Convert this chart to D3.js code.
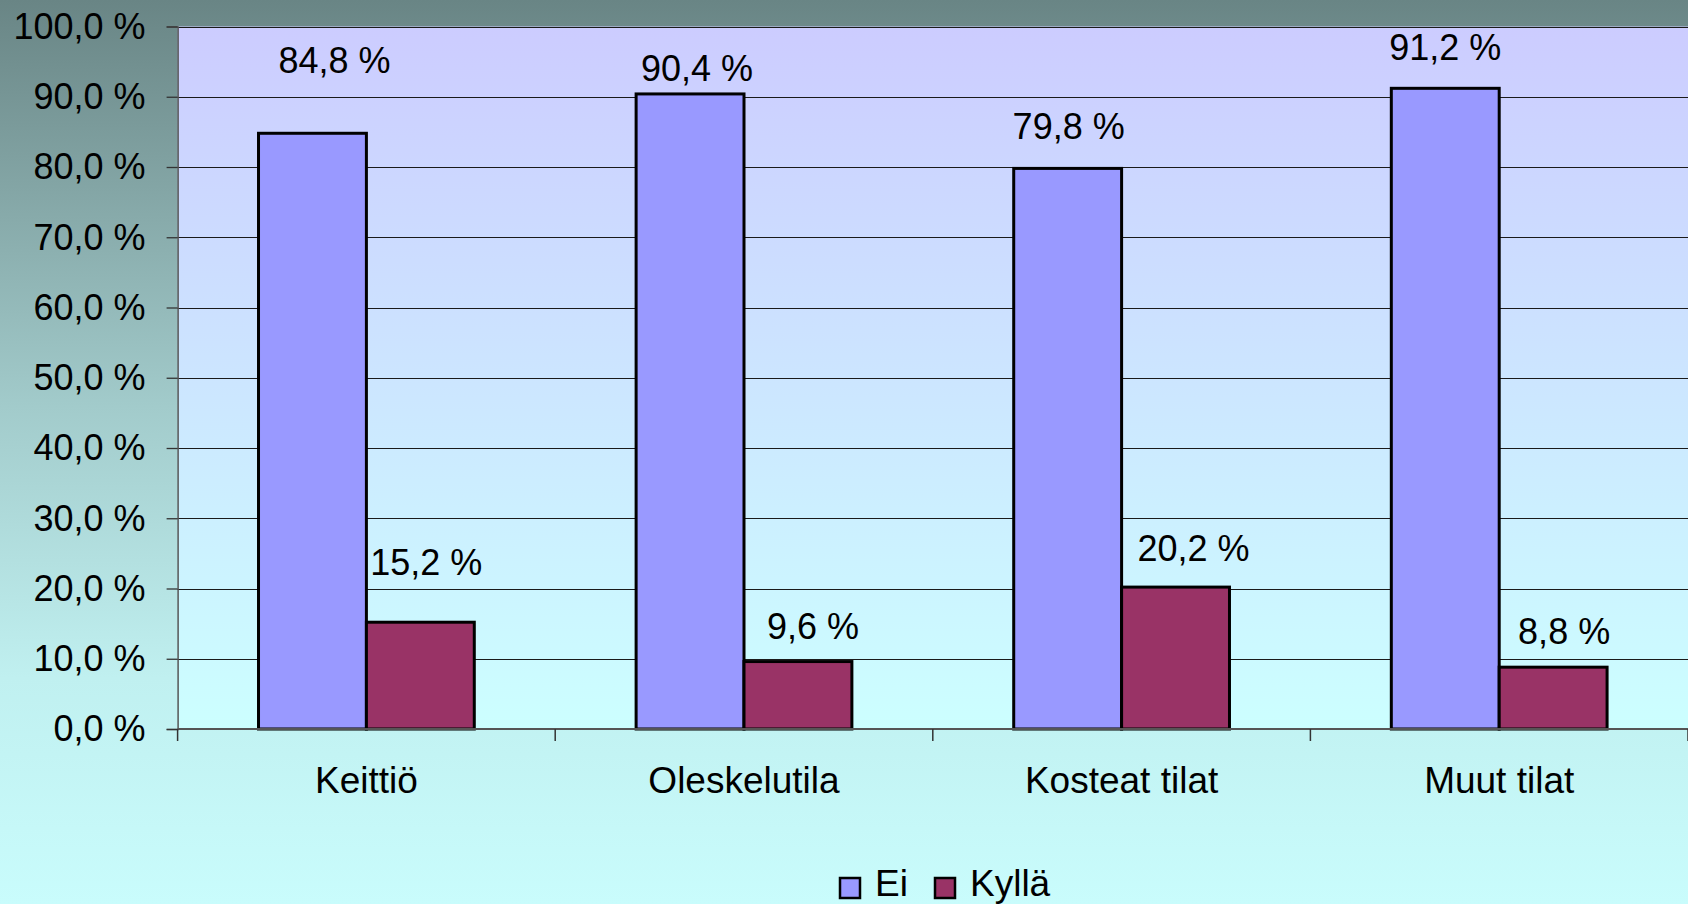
<!DOCTYPE html>
<html>
<head>
<meta charset="utf-8">
<script src="https://cdn.jsdelivr.net/npm/d3@7"></script>
<style>
  html, body { margin: 0; padding: 0; overflow: hidden; }
  svg { display: block; }
  text { font-family: "Liberation Sans", Arial, sans-serif; fill: #000; }
</style>
</head>
<body>
<svg id="chart" width="1688" height="904"></svg>
<script>
// ---- data ----
const categories = ["Keittiö", "Oleskelutila", "Kosteat tilat", "Muut tilat"];
const seriesNames = ["Ei", "Kyllä"];
const valuesEi = [84.8, 90.4, 79.8, 91.2];
const valuesKylla = [15.2, 9.6, 20.2, 8.8];
const yTicks = [0, 10, 20, 30, 40, 50, 60, 70, 80, 90, 100];

// ---- layout (label nudges relative to default placement, px) ----
const labelNudgeEi = [[22, -36], [7, 11], [1, -5], [0, -4]];
const labelNudgeKylla = [[6, -23], [15, 1], [18, -2], [11, 1]];

const colors = { "Ei": "#9999ff", "Kyllä": "#993366" };
const W = 1688, H = 904;
const plot = { left: 177.6, right: 1688, top: 26.5, bottom: 729 };

const svg = d3.select("#chart");
const defs = svg.append("defs");

const bgGrad = defs.append("linearGradient").attr("id", "bgGrad")
  .attr("x1", 0).attr("y1", 0).attr("x2", 0).attr("y2", 1);
bgGrad.append("stop").attr("offset", "0").attr("stop-color", "#698585");
bgGrad.append("stop").attr("offset", "0.45").attr("stop-color", "#a2cbcb");
bgGrad.append("stop").attr("offset", "0.75").attr("stop-color", "#c0f0f0");
bgGrad.append("stop").attr("offset", "1").attr("stop-color", "#c9fcfc");

const plotGrad = defs.append("linearGradient").attr("id", "plotGrad")
  .attr("x1", 0).attr("y1", 0).attr("x2", 0).attr("y2", 1);
plotGrad.append("stop").attr("offset", "0").attr("stop-color", "#ccccff");
plotGrad.append("stop").attr("offset", "1").attr("stop-color", "#ccffff");

svg.append("rect").attr("width", W).attr("height", H).attr("fill", "url(#bgGrad)");
svg.append("rect")
  .attr("x", plot.left).attr("y", plot.top)
  .attr("width", plot.right - plot.left).attr("height", plot.bottom - plot.top)
  .attr("fill", "url(#plotGrad)");

const x0 = d3.scaleBand().domain(categories).range([plot.left, plot.right]).paddingInner(0).paddingOuter(0);
const bw = x0.bandwidth();
const barW = bw / 3.5; // gap width 150%
const x1 = d3.scaleBand().domain(seriesNames).range([bw / 2 - barW, bw / 2 + barW]).padding(0);
const y = d3.scaleLinear().domain([0, 100]).range([plot.bottom, plot.top]);

const fmt = v => d3.format(".1f")(v).replace(".", ",") + " %";

// gridlines
svg.append("g").selectAll("line").data(yTicks.filter(t => t > 0)).join("line")
  .attr("x1", plot.left).attr("x2", plot.right)
  .attr("y1", d => Math.round(y(d)) + 0.5).attr("y2", d => Math.round(y(d)) + 0.5)
  .attr("stroke", "#1a1a1a").attr("stroke-width", 1.2);

// y axis
const yAxis = d3.axisLeft(y).tickValues(yTicks).tickSize(11).tickPadding(21).tickFormat(fmt);
const gy = svg.append("g").attr("transform", `translate(${plot.left},0)`).call(yAxis);
gy.select(".domain").attr("stroke", "#555").attr("stroke-width", 1.5);
gy.selectAll(".tick line").attr("stroke", "#333").attr("stroke-width", 1.3);
gy.selectAll(".tick text").attr("font-size", "36px").attr("fill", "#000")
  .attr("font-family", "Liberation Sans, Arial, sans-serif").attr("dy", "0.33em");

// bars
const rows = categories.map((c, i) => ({ cat: c, i, vals: [
  { s: "Ei", v: valuesEi[i], nudge: labelNudgeEi[i] },
  { s: "Kyllä", v: valuesKylla[i], nudge: labelNudgeKylla[i] }
]}));

const groups = svg.append("g").selectAll("g").data(rows).join("g")
  .attr("transform", d => `translate(${x0(d.cat)},0)`);

groups.selectAll("rect").data(d => d.vals).join("rect")
  .attr("x", d => x1(d.s)).attr("width", x1.bandwidth())
  .attr("y", d => y(d.v)).attr("height", d => y(0) - y(d.v))
  .attr("fill", d => colors[d.s]).attr("stroke", "#000").attr("stroke-width", 3);

groups.selectAll("text.lbl").data(d => d.vals).join("text").attr("class", "lbl")
  .attr("x", d => x1(d.s) + x1.bandwidth() / 2 + d.nudge[0])
  .attr("y", d => y(d.v) - 24 + d.nudge[1])
  .attr("text-anchor", "middle").attr("font-size", "36px")
  .text(d => fmt(d.v));

// x axis
const xAxis = d3.axisBottom(x0).tickSize(0).tickPadding(0);
const gx = svg.append("g").attr("transform", `translate(0,${plot.bottom})`);
gx.append("line").attr("x1", plot.left).attr("x2", plot.right).attr("y1", 0).attr("y2", 0)
  .attr("stroke", "#555").attr("stroke-width", 2);
const boundaries = categories.map(c => x0(c)).concat([plot.right]);
gx.selectAll("line.tk").data(boundaries).join("line").attr("class", "tk")
  .attr("x1", d => d).attr("x2", d => d).attr("y1", 0).attr("y2", 12)
  .attr("stroke", "#333").attr("stroke-width", 1.5);
gx.selectAll("text.cat").data(categories).join("text").attr("class", "cat")
  .attr("x", d => x0(d) + bw / 2).attr("y", 64)
  .attr("text-anchor", "middle").attr("font-size", "37px")
  .text(d => d);

// legend
const legend = svg.append("g").attr("transform", "translate(839,877)");
const legItems = [{ s: "Ei", x: 0 }, { s: "Kyllä", x: 95 }];
const li = legend.selectAll("g").data(seriesNames).join("g")
  .attr("transform", (d, i) => `translate(${i === 0 ? 0 : 95},0)`);
li.append("rect").attr("x", 1).attr("y", 1).attr("width", 20).attr("height", 20)
  .attr("fill", d => colors[d]).attr("stroke", "#000").attr("stroke-width", 2.5);
li.append("text").attr("x", 36).attr("y", 19).attr("font-size", "37px").text(d => d);
</script>
</body>
</html>
